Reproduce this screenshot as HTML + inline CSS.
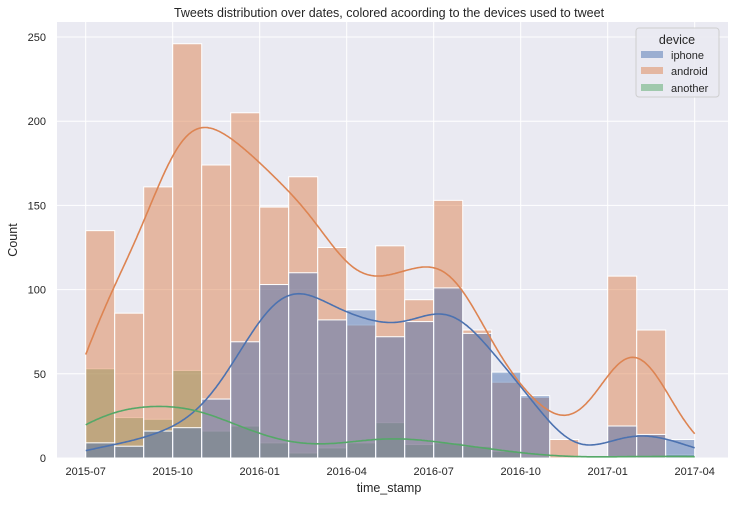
<!DOCTYPE html>
<html><head><meta charset="utf-8"><style>
body{margin:0;background:#fff;}
svg text{font-family:"Liberation Sans","DejaVu Sans",sans-serif;fill:#262626;}
</style></head><body>
<svg id="chart" width="731" height="501" xmlns="http://www.w3.org/2000/svg">
<rect x="57" y="22" width="671" height="436" fill="#eaeaf2"/>
<g id="grid"></g>
<g id="bars"></g>
<g id="kde"></g>
<g id="axes"></g>
<text x="389" y="17" font-size="12.5" text-anchor="middle">Tweets distribution over dates, colored acoording to the devices used to tweet</text>
<text x="389" y="492" font-size="12.5" text-anchor="middle">time_stamp</text>
<text x="17" y="240" font-size="12.5" text-anchor="middle" transform="rotate(-90 17 240)">Count</text>
<g>
<rect x="636" y="28" width="83" height="69" rx="3" fill="#eaeaf2" stroke="#cccccc" opacity="0.9"/>
<text x="677" y="44" font-size="12.5" text-anchor="middle">device</text>
<rect x="641" y="51" width="22" height="7" fill="#4c72b0" fill-opacity="0.5"/>
<text x="671" y="59" font-size="11">iphone</text>
<rect x="641" y="67" width="22" height="7" fill="#dd8452" fill-opacity="0.5"/>
<text x="671" y="75" font-size="11">android</text>
<rect x="641" y="84" width="22" height="7" fill="#55a868" fill-opacity="0.5"/>
<text x="671" y="92" font-size="11">another</text>
</g>
</svg>
<script>
const iphone  = [9,7,16,18,35,69,103,110,82,88,72,81,101,74,51,37,0,0,19,14,11];
const android = [135,86,161,246,174,205,149,167,125,79,126,94,153,76,45,36,11,0,108,76,0];
const another = [53,24,23,52,16,19,9,3,6,9,21,8,9,7,4,1,0,0,1,1,2];
const yTicks = [0,50,100,150,200,250];
const xTickLabels = ["2015-07","2015-10","2016-01","2016-04","2016-07","2016-10","2017-01","2017-04"];
const NS="http://www.w3.org/2000/svg";
const x0=85.7, binW=29, nb=iphone.length;
const xBin=i=>x0+i*binW;
const yS=v=>458-v*1.684;
function mk(tag,attrs,parent){const e=document.createElementNS(NS,tag);for(const k in attrs)e.setAttribute(k,attrs[k]);parent.appendChild(e);return e;}
const grid=document.getElementById('grid'),axes=document.getElementById('axes');
yTicks.forEach(t=>{
  const l=mk('line',{x1:57,x2:728,y1:yS(t),y2:yS(t),stroke:'#fff','stroke-width':1},grid);
  
  
  const tx=mk('text',{x:46,y:yS(t)+4,'font-size':11,'text-anchor':'end'},axes);
  tx.textContent=t;
  
  
});
xTickLabels.forEach((s,k)=>{
  const x=xBin(k*3);
  const l=mk('line',{x1:x,x2:x,y1:22,y2:458,stroke:'#fff','stroke-width':1},grid);
  
  
  const tx=mk('text',{x:x,y:475,'font-size':11,'text-anchor':'middle'},axes);
  tx.textContent=s;
  
  
});
const series=[['iphone',iphone,'#4c72b0'],['android',android,'#dd8452'],['another',another,'#55a868']];
const bars=document.getElementById('bars'),kde=document.getElementById('kde');
series.slice().reverse().forEach(([name,arr,col])=>{
  arr.forEach((v,i)=>{
    if(v<=0)return;
    const r=mk('rect',{x:xBin(i),y:yS(v),width:binW,height:yS(0)-yS(v),fill:col,'fill-opacity':0.5,stroke:'#fff','stroke-width':1},bars);
    
    
  });
});
series.forEach(([name,arr,col])=>{
  let n=0,m=0;arr.forEach((v,i)=>{n+=v;m+=v*(i+0.5);});m/=n;
  let vr=0;arr.forEach((v,i)=>{vr+=v*((i+0.5-m)**2+1/12);});vr/=n;
  const bw=1.03*Math.sqrt(vr)*Math.pow(n,-0.2);
  const last=nb;
  let d='';
  for(let t=0;t<=last+1e-9;t+=0.05){
    let s=0;arr.forEach((v,i)=>{const z=(t-(i+0.5))/bw;s+=v*Math.exp(-0.5*z*z);});
    const dens=s/(bw*Math.sqrt(2*Math.PI));
    d+=(d?'L':'M')+xBin(t).toFixed(1)+','+yS(dens).toFixed(1);
  }
  const p=mk('path',{d:d,fill:'none',stroke:col,'stroke-width':1.6},kde);
  
  
});
</script>
</body></html>
